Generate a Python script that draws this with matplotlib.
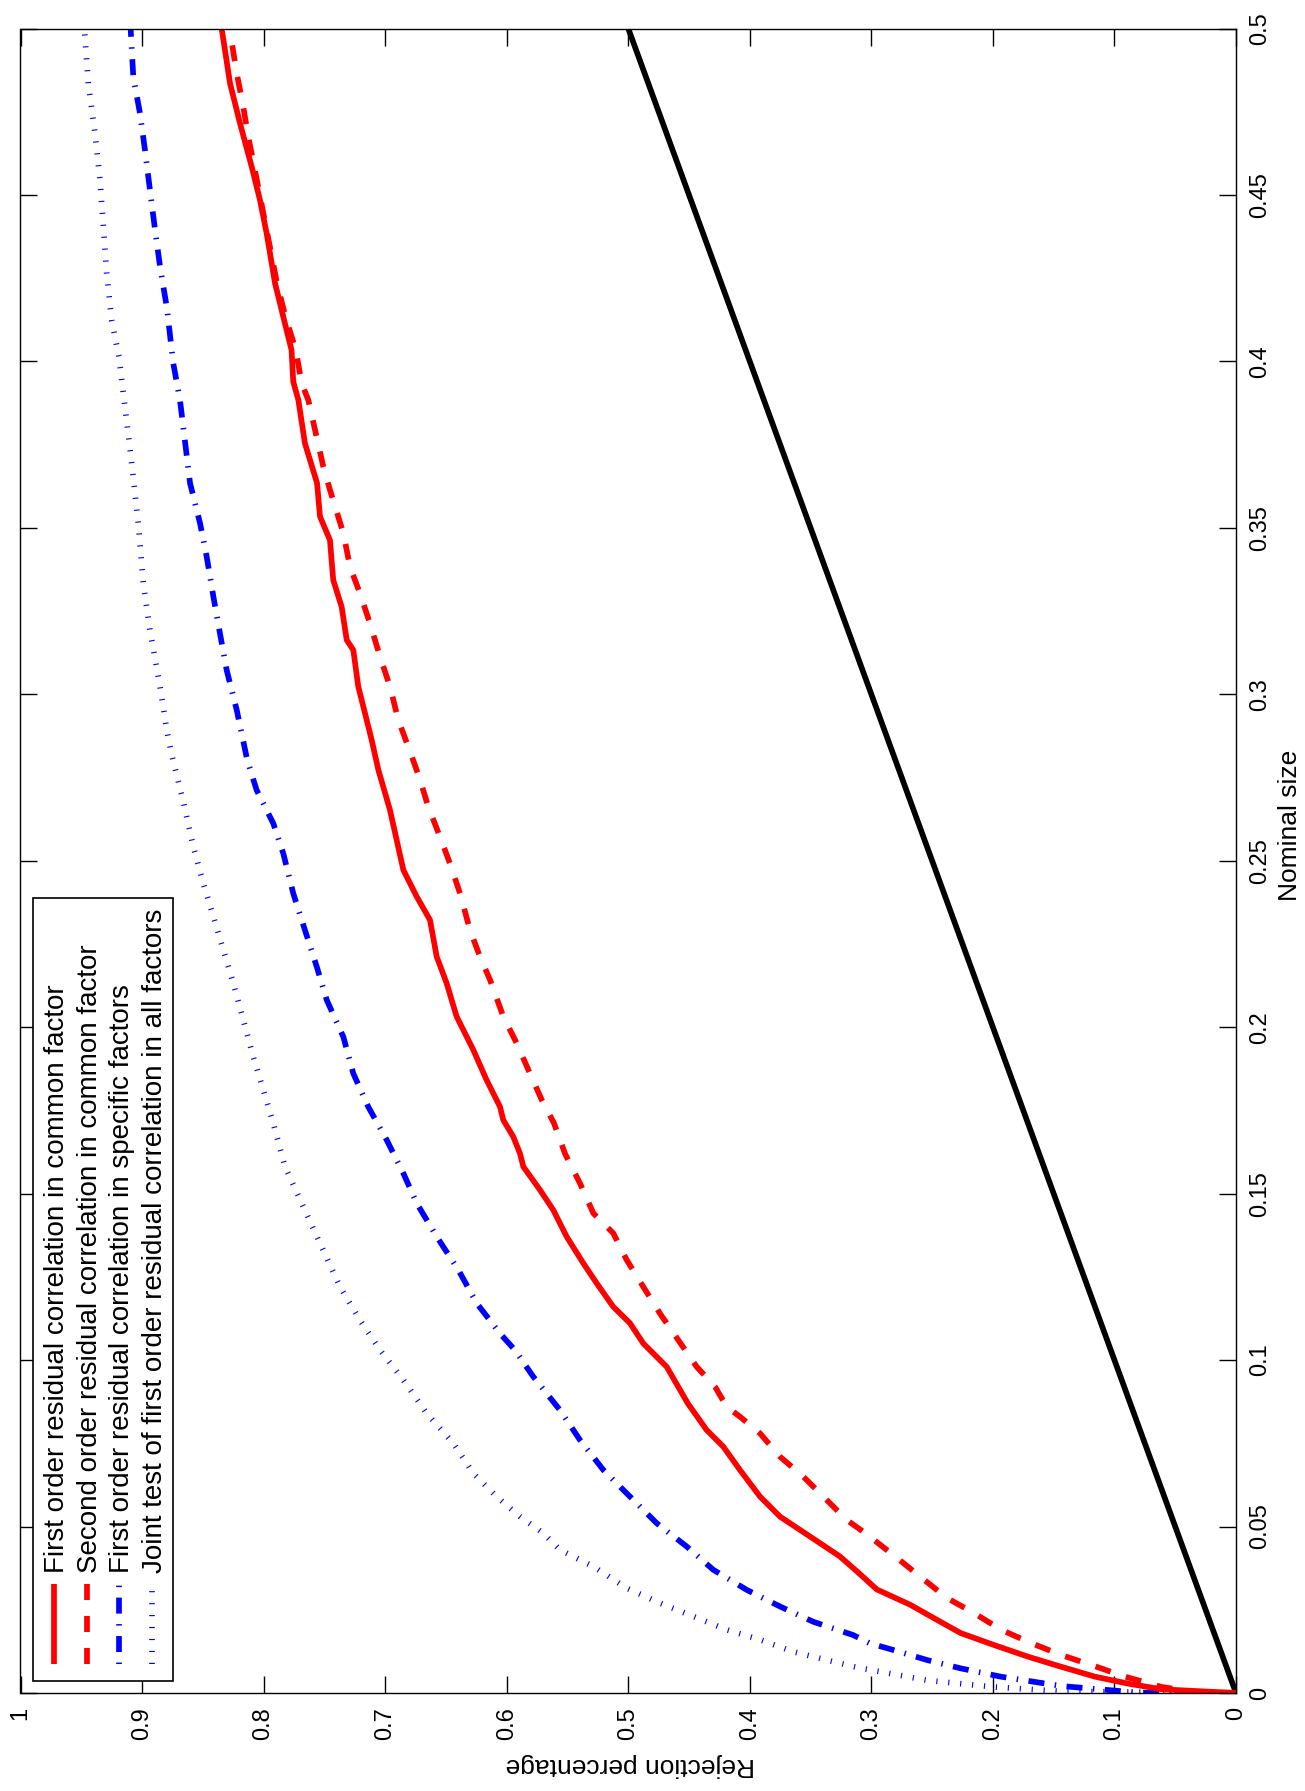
import matplotlib
matplotlib.use("Agg")
import matplotlib.pyplot as plt
from matplotlib.lines import Line2D
from matplotlib.patches import Rectangle
from matplotlib import font_manager

# ---------------- data (nominal size, rejection percentage) ----------------
nominal_fo_common = [0, 0.0011, 0.0028, 0.0049, 0.0079, 0.0109, 0.0144, 0.018, 0.0225, 0.0265,
                     0.0311, 0.0356, 0.041, 0.045, 0.049, 0.053, 0.059, 0.067, 0.074, 0.079,
                     0.087, 0.098, 0.105, 0.1111, 0.116, 0.1231, 0.1291, 0.1371, 0.1451, 0.1511,
                     0.1581, 0.1621, 0.1671, 0.1721, 0.1761, 0.1841, 0.1932, 0.2032, 0.2132, 0.2212,
                     0.2322, 0.2392, 0.2472, 0.2652, 0.2773, 0.2863, 0.2923, 0.3023, 0.3133, 0.3163,
                     0.3263, 0.3343, 0.3463, 0.3534, 0.3634, 0.3754, 0.3884, 0.3939, 0.4034, 0.4134,
                     0.4235, 0.4385, 0.4485, 0.4585, 0.4715, 0.4835, 0.5]
reject_fo_common = [0, 0.061, 0.0885, 0.116, 0.144, 0.171, 0.199, 0.2265, 0.2486, 0.268,
                    0.2955, 0.309, 0.3258, 0.3422, 0.3587, 0.3752, 0.3916, 0.4081, 0.4218, 0.4355,
                    0.451, 0.4684, 0.4876, 0.4986, 0.5123, 0.526, 0.537, 0.5507, 0.5617, 0.5726,
                    0.5863, 0.5891, 0.5946, 0.6028, 0.6055, 0.6165, 0.6275, 0.6412, 0.6494, 0.6576,
                    0.6631, 0.674, 0.685, 0.696, 0.7056, 0.7111, 0.7152, 0.7221, 0.7262, 0.7316,
                    0.7358, 0.7427, 0.7454, 0.7536, 0.756, 0.766, 0.7714, 0.7756, 0.777, 0.7838,
                    0.7906, 0.7975, 0.803, 0.8098, 0.8194, 0.8276, 0.8345]

nominal_so_common = [0, 0.0003, 0.0018, 0.0049, 0.0084, 0.0114, 0.015, 0.019, 0.024, 0.0285,
                     0.0341, 0.0406, 0.0477, 0.052, 0.059, 0.065, 0.071, 0.078, 0.083, 0.086,
                     0.092, 0.098, 0.106, 0.114, 0.122, 0.1301, 0.1381, 0.1441, 0.1531, 0.162,
                     0.1711, 0.1782, 0.1872, 0.1952, 0.2032, 0.2142, 0.2212, 0.2292, 0.2402, 0.2492,
                     0.2572, 0.2662, 0.2743, 0.2813, 0.2923, 0.3023, 0.3113, 0.3213, 0.3303, 0.3383,
                     0.3484, 0.3614, 0.3684, 0.3884, 0.3934, 0.4034, 0.4134, 0.4235, 0.4385, 0.4535,
                     0.4675, 0.4775, 0.4865, 0.5]
reject_so_common = [0, 0.033, 0.061, 0.0912, 0.1189, 0.1437, 0.1686, 0.1933, 0.2155, 0.2376,
                    0.2569, 0.279, 0.3038, 0.3203, 0.3395, 0.356, 0.3752, 0.3916, 0.4081, 0.419,
                    0.4286, 0.4437, 0.4588, 0.4739, 0.4876, 0.5013, 0.5123, 0.5287, 0.5397, 0.552,
                    0.561, 0.5712, 0.5822, 0.5918, 0.6028, 0.6137, 0.622, 0.6302, 0.6384, 0.6467,
                    0.6549, 0.6645, 0.6713, 0.678, 0.6892, 0.696, 0.7042, 0.7125, 0.7207, 0.7289,
                    0.7344, 0.7454, 0.7509, 0.7632, 0.7687, 0.7735, 0.782, 0.789, 0.797, 0.805,
                    0.8126, 0.8172, 0.8221, 0.828]

nominal_fo_specific = [0, 0.0001, 0.0021, 0.0049, 0.0074, 0.0099, 0.0129, 0.0149, 0.0174, 0.0214,
                       0.026, 0.031, 0.037, 0.044, 0.051, 0.059, 0.067, 0.076, 0.085, 0.095,
                       0.103, 0.108, 0.1171, 0.1271, 0.1371, 0.1471, 0.1561, 0.1661, 0.1761, 0.1861,
                       0.1971, 0.2082, 0.2182, 0.2292, 0.2402, 0.2522, 0.2612, 0.2712, 0.2803, 0.2953,
                       0.3073, 0.3183, 0.3293, 0.3413, 0.3514, 0.3634, 0.3884, 0.3994, 0.4164, 0.4285,
                       0.4395, 0.4515, 0.4635, 0.4745, 0.4855, 0.5]
reject_fo_specific = [0, 0.08, 0.1437, 0.1934, 0.2265, 0.2541, 0.2817, 0.3011, 0.3149, 0.3478,
                      0.3752, 0.4026, 0.43, 0.4519, 0.4766, 0.4986, 0.5205, 0.5397, 0.5562, 0.5781,
                      0.5932, 0.6055, 0.6247, 0.6398, 0.6576, 0.674, 0.685, 0.6987, 0.7139, 0.7262,
                      0.7344, 0.7481, 0.7563, 0.766, 0.7756, 0.7838, 0.792, 0.8057, 0.8135, 0.8221,
                      0.8304, 0.8359, 0.8413, 0.8468, 0.8523, 0.8605, 0.8688, 0.8743, 0.8797, 0.8852,
                      0.8893, 0.8935, 0.8976, 0.9017, 0.9072, 0.9094]

nominal_joint = [0, 0.0005, 0.0018, 0.0038, 0.0077, 0.0099, 0.0124, 0.016, 0.019, 0.023,
                 0.027, 0.0315, 0.038, 0.043, 0.048, 0.053, 0.059, 0.066, 0.075, 0.084,
                 0.094, 0.103, 0.112, 0.122, 0.1351, 0.1581, 0.1711, 0.1811, 0.1911, 0.2022,
                 0.2132, 0.2232, 0.2332, 0.2432, 0.2542, 0.2677, 0.2818, 0.2893, 0.3023, 0.3193,
                 0.3333, 0.3514, 0.3694, 0.3904, 0.4014, 0.4124, 0.4265, 0.4405, 0.4545, 0.4685,
                 0.4835, 0.5]
reject_joint = [0, 0.1437, 0.1989, 0.2541, 0.312, 0.3367, 0.3642, 0.3916, 0.419, 0.4465,
                0.4739, 0.5013, 0.5287, 0.5562, 0.5699, 0.5891, 0.6083, 0.6275, 0.6439, 0.6658,
                0.685, 0.7042, 0.7207, 0.7371, 0.7536, 0.7824, 0.792, 0.8002, 0.8085, 0.8167,
                0.8249, 0.8331, 0.8413, 0.8496, 0.8578, 0.866, 0.8756, 0.8797, 0.8852, 0.8935,
                0.899, 0.9031, 0.9085, 0.9154, 0.919, 0.925, 0.9291, 0.9318, 0.9346, 0.9387,
                0.9442, 0.9475]

nominal_diag = [0, 0.5]
reject_diag = [0, 0.5]

legend_labels = ["First order residual correlation in common factor",
                 "Second order residual correlation in common factor",
                 "First order residual correlation in specific factors",
                 "Joint test of first order residual correlation in all factors"]

reject_ticks = [0, 0.1, 0.2, 0.3, 0.4, 0.5, 0.6, 0.7, 0.8, 0.9, 1]
reject_ticklabels = ["0", "0.1", "0.2", "0.3", "0.4", "0.5", "0.6", "0.7", "0.8", "0.9", "1"]
nominal_ticks = [0, 0.05, 0.1, 0.15, 0.2, 0.25, 0.3, 0.35, 0.4, 0.45, 0.5]
nominal_ticklabels = ["0", "0.05", "0.1", "0.15", "0.2", "0.25", "0.3", "0.35", "0.4", "0.45", "0.5"]

# ---------------- style ----------------
available = {f.name for f in font_manager.fontManager.ttflist}
base_font = "Liberation Sans" if "Liberation Sans" in available else "DejaVu Sans"
plt.rcParams["font.family"] = [base_font, "DejaVu Sans"]

LW = 4.1
RED = "#ff0000"
BLUE = "#0000ff"
dash_style = (0, (2.81, 2.81))
dashdot_style = (0, (2.81, 1.84, 0.26, 1.84))
dot_style = (0, (0.2, 1.9))

fig = plt.figure(figsize=(13.05, 17.91), dpi=100)
ax = fig.add_axes([20.5 / 1305, 98 / 1791, 1215.5 / 1305, 1664.5 / 1791])

# rotated chart: horizontal = rejection percentage (reversed), vertical = nominal size
ax.plot(reject_diag, nominal_diag, color="black", lw=LW, solid_capstyle="butt")
ax.plot(reject_joint, nominal_joint, color=BLUE, lw=LW, linestyle=dot_style,
        dash_capstyle="butt")
ax.plot(reject_fo_specific, nominal_fo_specific, color=BLUE, lw=LW, linestyle=dashdot_style,
        dash_capstyle="butt")
ax.plot(reject_so_common, nominal_so_common, color=RED, lw=LW, linestyle=dash_style,
        dash_capstyle="butt")
ax.plot(reject_fo_common, nominal_fo_common, color=RED, lw=LW, solid_capstyle="butt",
        solid_joinstyle="round")

ax.set_xlim(1, 0)
ax.set_ylim(0, 0.5)

ax.set_xticks(reject_ticks)
ax.set_xticklabels(reject_ticklabels)
ax.set_yticks(nominal_ticks)
ax.set_yticklabels(nominal_ticklabels)

ax.tick_params(axis="both", which="major", direction="in", length=12, width=1.0,
               top=True, bottom=True, left=True, right=True, labelsize=17)
ax.tick_params(axis="x", pad=10, labelrotation=90)
ax.tick_params(axis="y", pad=9.4, labelleft=False, labelright=True, labelrotation=90)
for t in ax.yaxis.get_major_ticks():
    t.label2.set_va("center")
    t.label2.set_ha("left")
for t in ax.xaxis.get_major_ticks():
    t.label1.set_va("top")
    t.label1.set_ha("center")

for s in ax.spines.values():
    s.set_linewidth(1.0)

ax.set_xlabel("Rejection percentage", fontsize=19, rotation=180, va="center", ha="center")
ax.xaxis.set_label_coords(0.502, -0.0433)
ax.yaxis.set_label_position("right")
ax.set_ylabel("Nominal size", fontsize=19, rotation=90, va="center", ha="center")
ax.yaxis.set_label_coords(1.0444, 0.5215)

# ---------------- legend (rotated, drawn in axes coordinates) ----------------
box = Rectangle((0.01053, 0.00739), 0.1252 - 0.01053, 0.4776 - 0.00739,
                transform=ax.transAxes, facecolor="white", edgecolor="black",
                lw=1.2, zorder=10)
ax.add_patch(box)
leg_x = [0.02756, 0.05446, 0.08104, 0.10794]
leg_styles = [dict(color=RED, linestyle="-"),
              dict(color=RED, linestyle=dash_style),
              dict(color=BLUE, linestyle=(2.81 + 1.84, (2.81, 1.84, 0.26, 1.84))),
              dict(color=BLUE, linestyle=dot_style)]
for xl, st, lab in zip(leg_x, leg_styles, legend_labels):
    ln = Line2D([xl, xl], [0.01742, 0.06549], transform=ax.transAxes, lw=LW,
                dash_capstyle="butt", solid_capstyle="butt", zorder=11, **st)
    ax.add_line(ln)
    ax.text(xl + 0.0082, 0.07209, lab, transform=ax.transAxes, rotation=90,
            rotation_mode="anchor", ha="left", va="baseline", fontsize=20, zorder=12)

fig.savefig("out.png", dpi=100)
